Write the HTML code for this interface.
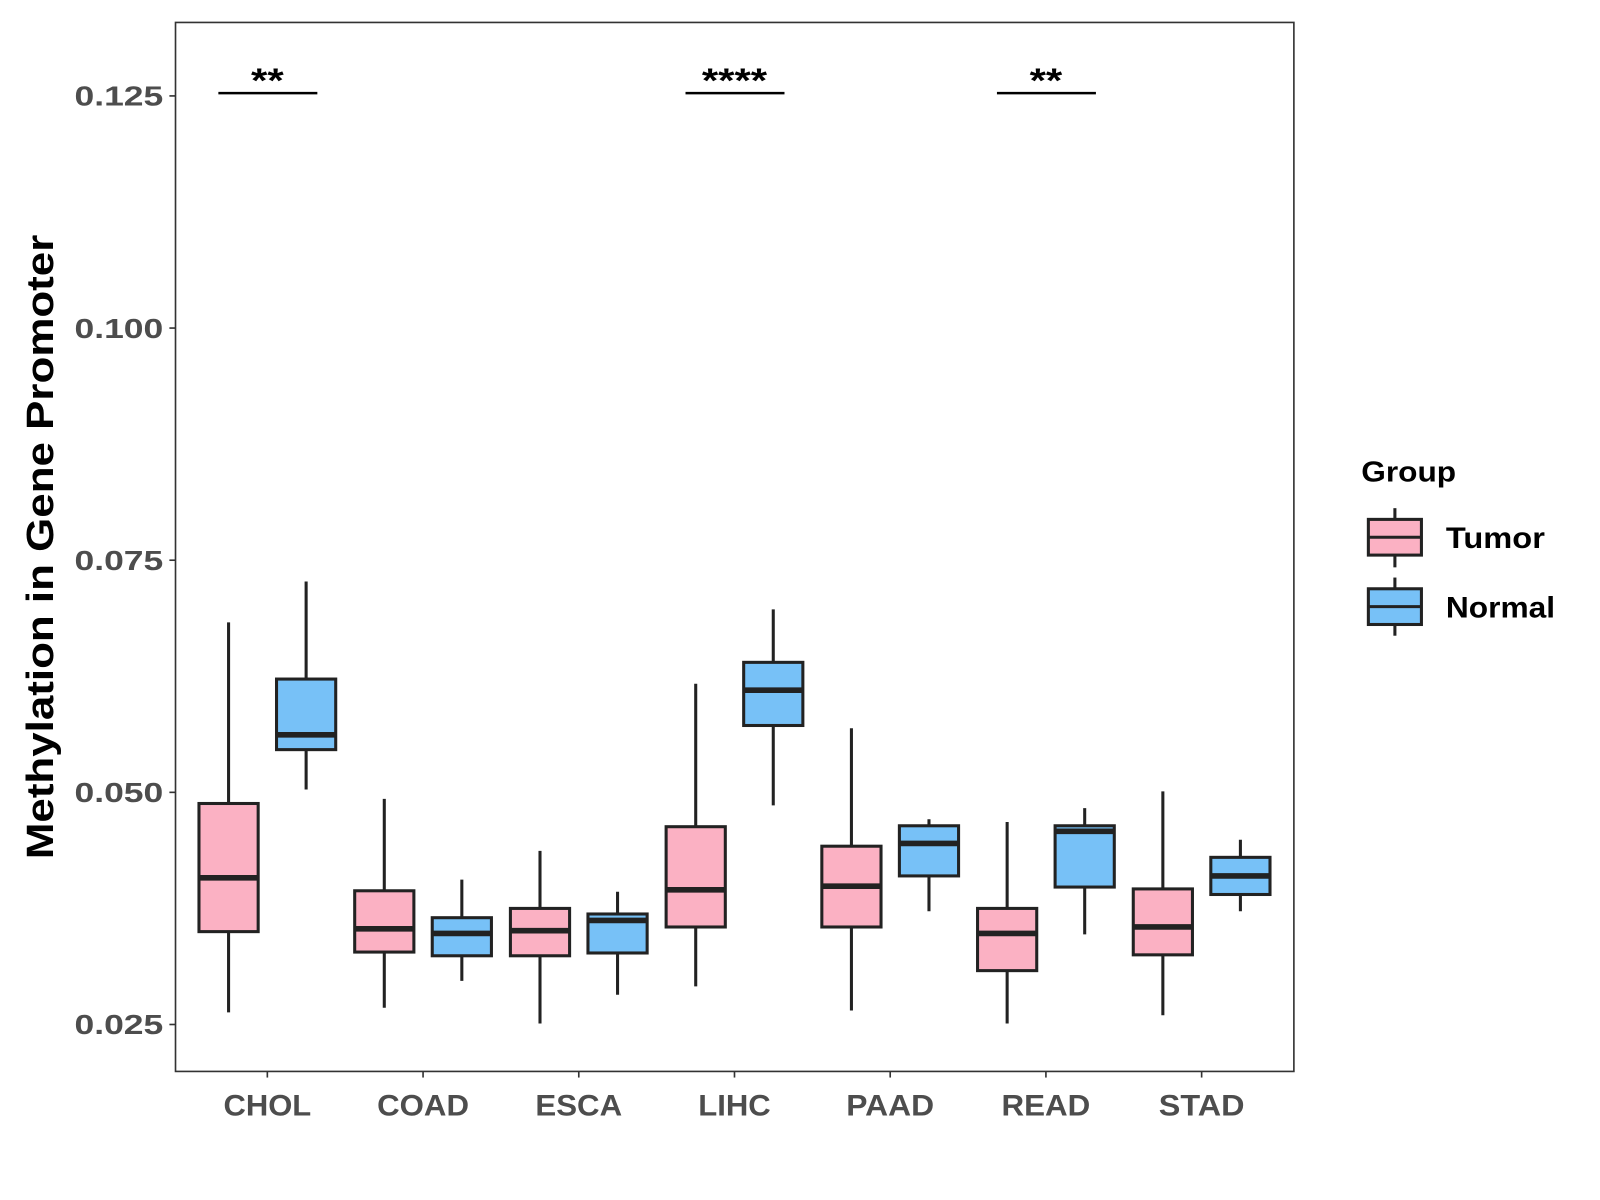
<!DOCTYPE html>
<html><head><meta charset="utf-8"><style>
html,body{margin:0;padding:0;background:#fff;}
svg{display:block;font-family:"Liberation Sans",Arial,sans-serif;font-weight:bold;}
</style></head><body>
<svg id="chart" width="1600" height="1200" viewBox="0 0 1568 1176">
<rect x="0" y="0" width="1568" height="1176" fill="#fff"/>
<g id="plot"></g>
<rect x="172" y="22" width="1096" height="1028" fill="none" stroke="#333" stroke-width="1.6"/>
<text transform="translate(52,536) rotate(-90)" text-anchor="middle" font-size="37" fill="#000" textLength="612" lengthAdjust="spacingAndGlyphs">Methylation in Gene Promoter</text>
<g>
<text x="1334" y="472" font-size="28" fill="#000" textLength="93" lengthAdjust="spacingAndGlyphs">Group</text>
<g>
<line x1="1367" y1="498" x2="1367" y2="556" stroke="#222" stroke-width="3"/>
<rect x="1341" y="509" width="52" height="35" fill="#FBB1C3" stroke="#222" stroke-width="3"/>
<line x1="1341" y1="526.5" x2="1393" y2="526.5" stroke="#222" stroke-width="3"/>
<text x="1417" y="537" font-size="29" fill="#000" textLength="97" lengthAdjust="spacingAndGlyphs">Tumor</text>
</g>
<g>
<line x1="1367" y1="566" x2="1367" y2="623" stroke="#222" stroke-width="3"/>
<rect x="1341" y="577" width="52" height="35" fill="#77C1F7" stroke="#222" stroke-width="3"/>
<line x1="1341" y1="594.5" x2="1393" y2="594.5" stroke="#222" stroke-width="3"/>
<text x="1417" y="605" font-size="29" fill="#000" textLength="107" lengthAdjust="spacingAndGlyphs">Normal</text>
</g>
</g>
</svg>
<script>
const categories = ["CHOL","COAD","ESCA","LIHC","PAAD","READ","STAD"];
// [whiskerLow, q1, median, q3, whiskerHigh]
const tumorStats = [
 [0.0263,0.0350,0.0408,0.0488,0.0683],
 [0.0268,0.0328,0.0353,0.0394,0.0493],
 [0.0251,0.0324,0.0351,0.0375,0.0437],
 [0.0291,0.0355,0.0395,0.0463,0.0617],
 [0.0265,0.0355,0.0399,0.0442,0.0569],
 [0.0251,0.0308,0.0348,0.0375,0.0468],
 [0.0260,0.0325,0.0355,0.0396,0.0501]
];
const normalStats = [
 [0.0503,0.0546,0.0562,0.0622,0.0727],
 [0.0297,0.0324,0.0348,0.0365,0.0406],
 [0.0282,0.0327,0.0362,0.0369,0.0393],
 [0.0486,0.0572,0.0610,0.0640,0.0697],
 [0.0372,0.0410,0.0445,0.0464,0.0471],
 [0.0347,0.0398,0.0458,0.0464,0.0483],
 [0.0372,0.0390,0.0410,0.0430,0.0449]
];
const yTicks = [0.025,0.050,0.075,0.100,0.125];
const yTickLabels = ["0.025","0.050","0.075","0.100","0.125"];
const sigCategories = ["CHOL","LIHC","READ"];
const sigLabels = ["**","****","**"];
const sigLevel = 0.1253;
const labelWidths = {CHOL:86,COAD:90,ESCA:85,LIHC:71,PAAD:86,READ:87,STAD:84};

const NS="http://www.w3.org/2000/svg";
const g=document.getElementById('plot');
function y(v){return 1004-(v-0.025)/0.025*227.5;}
function x(i){return 262+i*152.6;}
function el(t,a){const e=document.createElementNS(NS,t);for(const k in a)e.setAttribute(k,a[k]);g.appendChild(e);return e;}

yTicks.forEach((t,i)=>{
 const l=el('line',{x1:166,x2:172,y1:y(t),y2:y(t),stroke:'#333','stroke-width':1.6});
 
 
 const tx=el('text',{x:160,y:y(t)+9.5,'text-anchor':'end','font-size':27,fill:'#4d4d4d',textLength:87,lengthAdjust:'spacingAndGlyphs'});
 tx.textContent=yTickLabels[i];
 
 
});
categories.forEach((c,i)=>{
 const l=el('line',{x1:x(i),x2:x(i),y1:1050,y2:1056,stroke:'#333','stroke-width':1.6});
 
 
 const tx=el('text',{x:x(i),y:1093,'text-anchor':'middle','font-size':29,fill:'#4d4d4d',textLength:labelWidths[c]||c.length*21.5,lengthAdjust:'spacingAndGlyphs'});
 tx.textContent=c;
 
 
});
function box(cx,s,fill,name){
 const w=58;
 const wl=el('line',{x1:cx,x2:cx,y1:y(s[0]),y2:y(s[4]),stroke:'#222','stroke-width':3});
 
 
 const r=el('rect',{x:cx-w/2,y:y(s[3]),width:w,height:y(s[1])-y(s[3]),fill:fill,stroke:'#222','stroke-width':3});
 
 
 const m=el('line',{x1:cx-w/2,x2:cx+w/2,y1:y(s[2]),y2:y(s[2]),stroke:'#222','stroke-width':5.5});
 
 
}
categories.forEach((c,i)=>{
 box(x(i)-38,tumorStats[i],'#FBB1C3','tumor-'+c.toLowerCase());
 box(x(i)+38,normalStats[i],'#77C1F7','normal-'+c.toLowerCase());
});
sigCategories.forEach((c,k)=>{
 const i=categories.indexOf(c);
 const l=el('line',{x1:x(i)-48,x2:x(i)+49,y1:y(sigLevel),y2:y(sigLevel),stroke:'#000','stroke-width':2.5});
 
 
 const t=el('text',{x:x(i),y:y(sigLevel)-1,'text-anchor':'middle','font-size':34,fill:'#000',textLength:sigLabels[k].length*16,lengthAdjust:'spacingAndGlyphs'});
 t.textContent=sigLabels[k];
 
 
});
</script>
</body></html>
